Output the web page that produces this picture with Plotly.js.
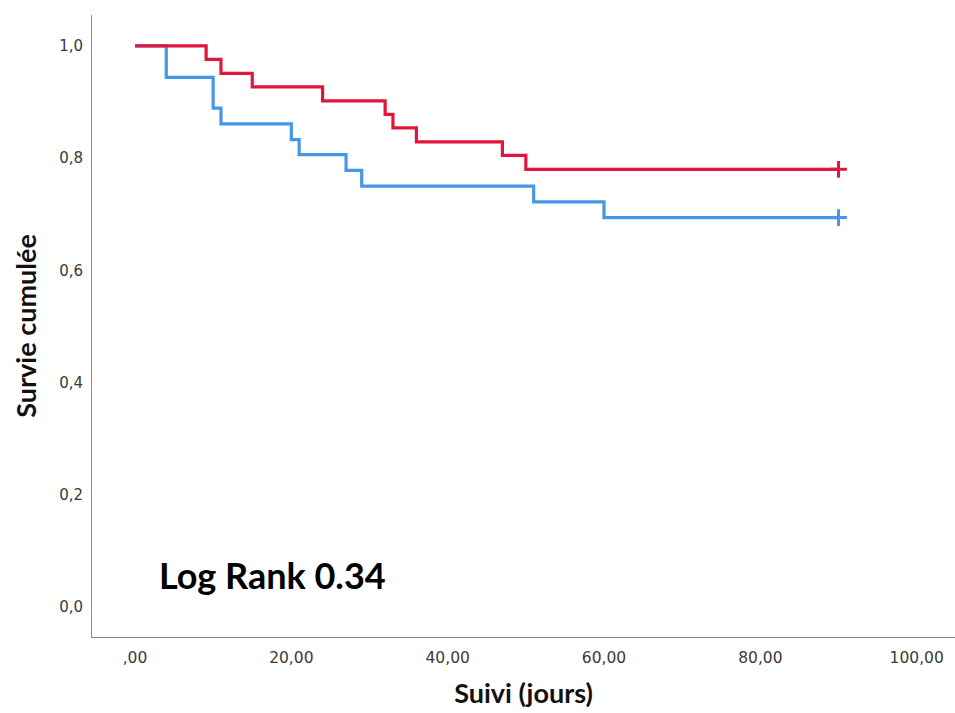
<!DOCTYPE html>
<html>
<head>
<meta charset="utf-8">
<script src="https://cdn.plot.ly/plotly-3.0.1.min.js"></script>
<style>html,body{margin:0;padding:0;background:#fff;}#chart{width:955px;height:713px;}</style>
</head>
<body>
<div id="chart"></div>
<script>
// Group 1 (red)
const redTimes = [0, 9.1, 11, 15, 24, 32, 33, 36, 47, 50, 90];
const redSurv  = [1.0, 0.976, 0.951, 0.927, 0.902, 0.878, 0.854, 0.829, 0.805, 0.780, 0.780];
// Group 2 (blue)
const blueTimes = [0, 4, 10, 11, 20, 21, 27, 29, 51, 60, 90];
const blueSurv  = [1.0, 0.944, 0.889, 0.861, 0.833, 0.806, 0.778, 0.750, 0.722, 0.694, 0.694];
// Censored points
const redCensorT = [90];
const redCensorS = [0.780];
const blueCensorT = [90];
const blueCensorS = [0.694];
// Tick labels
const xTickVals = [0, 20, 40, 60, 80, 100];
const xTickText = [",00", "20,00", "40,00", "60,00", "80,00", "100,00"];
const yTickVals = [0, 0.2, 0.4, 0.6, 0.8, 1.0];
const yTickText = ["0,0", "0,2", "0,4", "0,6", "0,8", "1,0"];

const RED = "#e3153d";
const BLUE = "#4797e6";

const traces = [
  {x: blueTimes, y: blueSurv, mode: "lines", line: {shape: "hv", color: BLUE, width: 3.2}, hoverinfo: "skip"},
  {x: redTimes, y: redSurv, mode: "lines", line: {shape: "hv", color: RED, width: 3.2}, hoverinfo: "skip"},
  {x: blueCensorT, y: blueCensorS, mode: "markers", marker: {symbol: "cross-thin", size: 12, line: {color: BLUE, width: 3}}},
  {x: redCensorT, y: redCensorS, mode: "markers", marker: {symbol: "cross-thin", size: 12, line: {color: RED, width: 3}}}
];

const layout = {
  width: 955, height: 713,
  margin: {l: 92, r: 0, t: 15, b: 76},
  showlegend: false,
  paper_bgcolor: "#fff", plot_bgcolor: "#fff",
  xaxis: {
    range: [-5.5, 104.9],
    tickvals: xTickVals, ticktext: xTickText,
    showgrid: false, zeroline: false,
    showline: true, linecolor: "#8a8a8a", linewidth: 1,
    ticks: "", ticklabelstandoff: 6,
    tickfont: {family: "DejaVu Sans", size: 15.5, color: "#3a3a3a"},
    title: {text: "<b>Suivi (jours)</b>", font: {family: "Lato", size: 27, color: "#111"}, standoff: 18}
  },
  yaxis: {
    range: [-0.0535, 1.055],
    tickvals: yTickVals, ticktext: yTickText,
    showgrid: false, zeroline: false,
    showline: true, linecolor: "#8a8a8a", linewidth: 1,
    ticks: "", ticklabelstandoff: 5,
    tickfont: {family: "DejaVu Sans", size: 15, color: "#3a3a3a"},
    title: {text: "<b>Survie cumulée</b>", font: {family: "Lato", size: 27, color: "#111"}, standoff: 14}
  },
  annotations: [{
    x: 2.8, y: 0.057, xref: "x", yref: "y",
    xanchor: "left", yanchor: "middle",
    text: "<b>Log Rank 0.34</b>", showarrow: false,
    font: {family: "Lato", size: 36, color: "#000"}
  }]
};

Plotly.newPlot("chart", traces, layout, {displayModeBar: false, staticPlot: true});
</script>
</body>
</html>
